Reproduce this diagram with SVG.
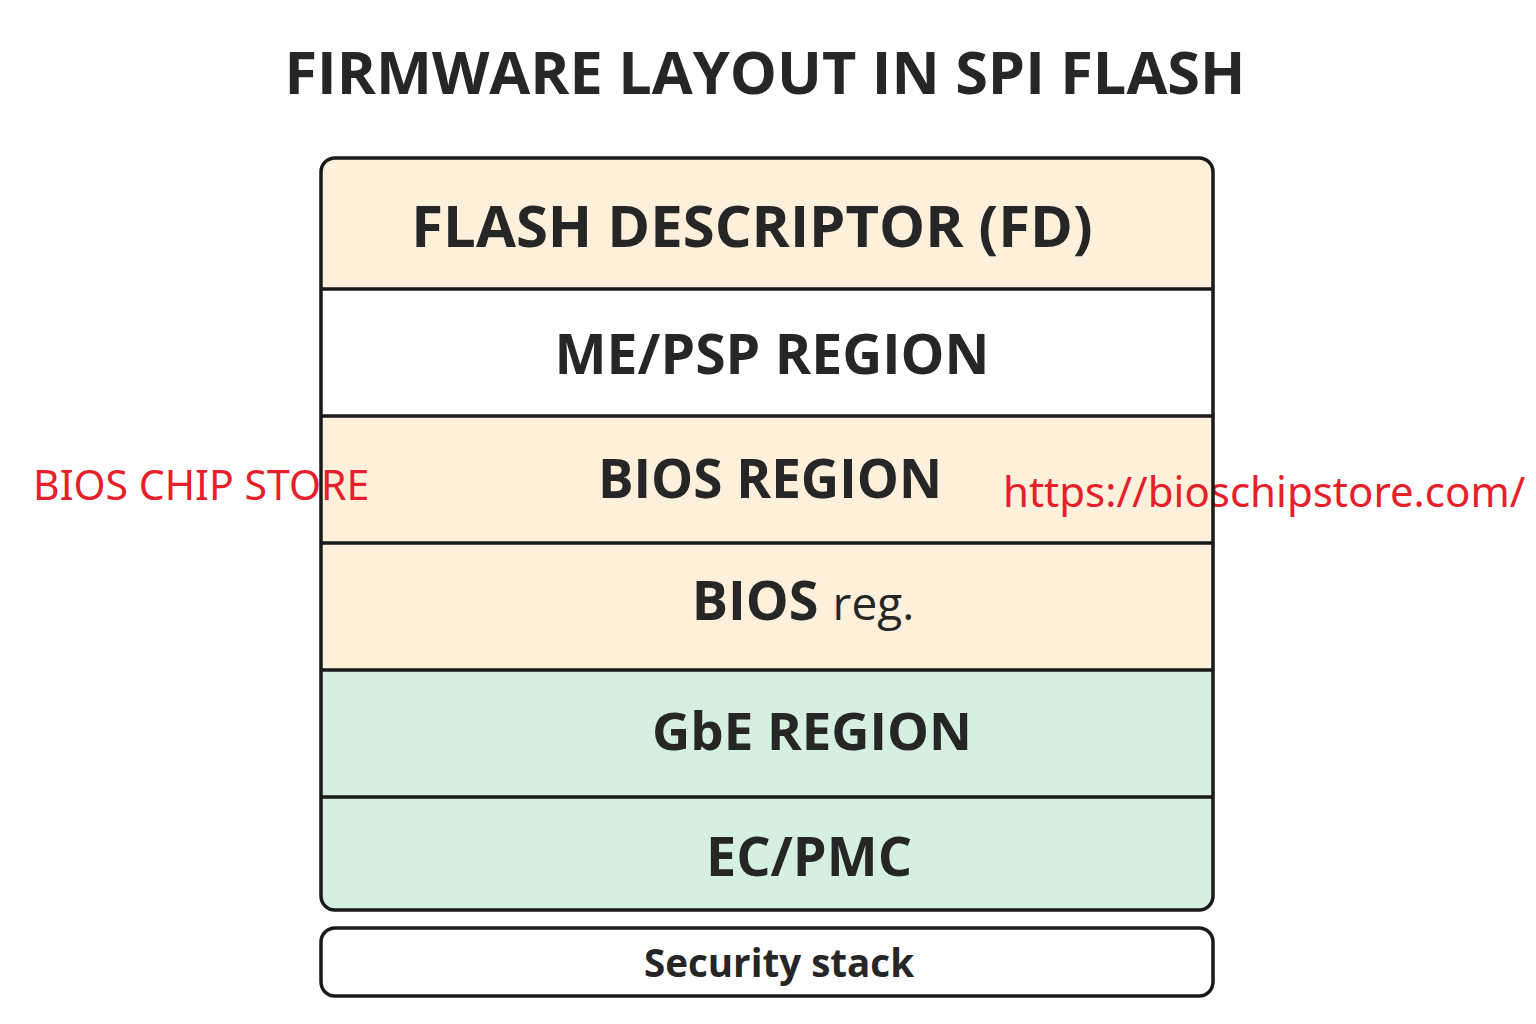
<svg xmlns="http://www.w3.org/2000/svg" width="1536" height="1024" viewBox="0 0 1536 1024">
<style>
.cream{fill:#FEF0DB}
.green{fill:#D5F0E0}
.white{fill:#FFFFFF}
.lbl{font-family:"Open Sans","Noto Sans",sans-serif;font-weight:700;fill:#262626;text-anchor:middle}
.line{stroke:#1a1a1a;stroke-width:3.5;fill:none}
.red{font-family:"Noto Sans","Open Sans",sans-serif;fill:#E5202A;font-size:42px}
</style>
<rect width="1536" height="1024" fill="#FFFFFF"/>
<text id="title" x="765" y="94" class="lbl" font-size="59.4">FIRMWARE LAYOUT IN SPI FLASH</text>
<g id="fd"><path class="cream" d="M335,158 H1199 Q1213,158 1213,172 V289 H321 V172 Q321,158 335,158 Z"/><text x="752" y="247" class="lbl" font-size="58">FLASH DESCRIPTOR (FD)</text></g>
<g id="me"><rect class="white" x="321" y="289" width="892" height="127"/><text x="772" y="374" class="lbl" font-size="55.3">ME/PSP REGION</text></g>
<g id="bios"><rect class="cream" x="321" y="416" width="892" height="127"/><text x="770" y="498" class="lbl" font-size="53">BIOS REGION</text></g>
<g id="biosreg"><rect class="cream" x="321" y="543" width="892" height="127"/><text x="803" y="620" class="lbl" font-size="54">BIOS <tspan font-weight="400" font-size="46">reg.</tspan></text></g>
<g id="gbe"><rect class="green" x="321" y="670" width="892" height="127"/><text x="812" y="750" class="lbl" font-size="52.8">GbE REGION</text></g>
<g id="ec"><path class="green" d="M321,797 H1213 V896 Q1213,910 1199,910 H335 Q321,910 321,896 Z"/><text x="809" y="876" class="lbl" font-size="54">EC/PMC</text></g>
<text x="33" y="500" class="red" font-size="41" style="font-size:41px">BIOS CHIP STORE</text>
<text x="1003" y="507" class="red">https://bioschipstore.com/</text>
<g id="connectors">
<rect class="line" x="321" y="158" width="892" height="752" rx="14"/>
<line class="line" x1="321" y1="289" x2="1213" y2="289"/>
<line class="line" x1="321" y1="416" x2="1213" y2="416"/>
<line class="line" x1="321" y1="543" x2="1213" y2="543"/>
<line class="line" x1="321" y1="670" x2="1213" y2="670"/>
<line class="line" x1="321" y1="797" x2="1213" y2="797"/>
</g>
<g id="security"><rect class="line" style="fill:#fff" x="321" y="928" width="892" height="68" rx="14"/><text x="779" y="977" class="lbl" font-size="38.6" font-weight="600">Security stack</text></g>
</svg>
